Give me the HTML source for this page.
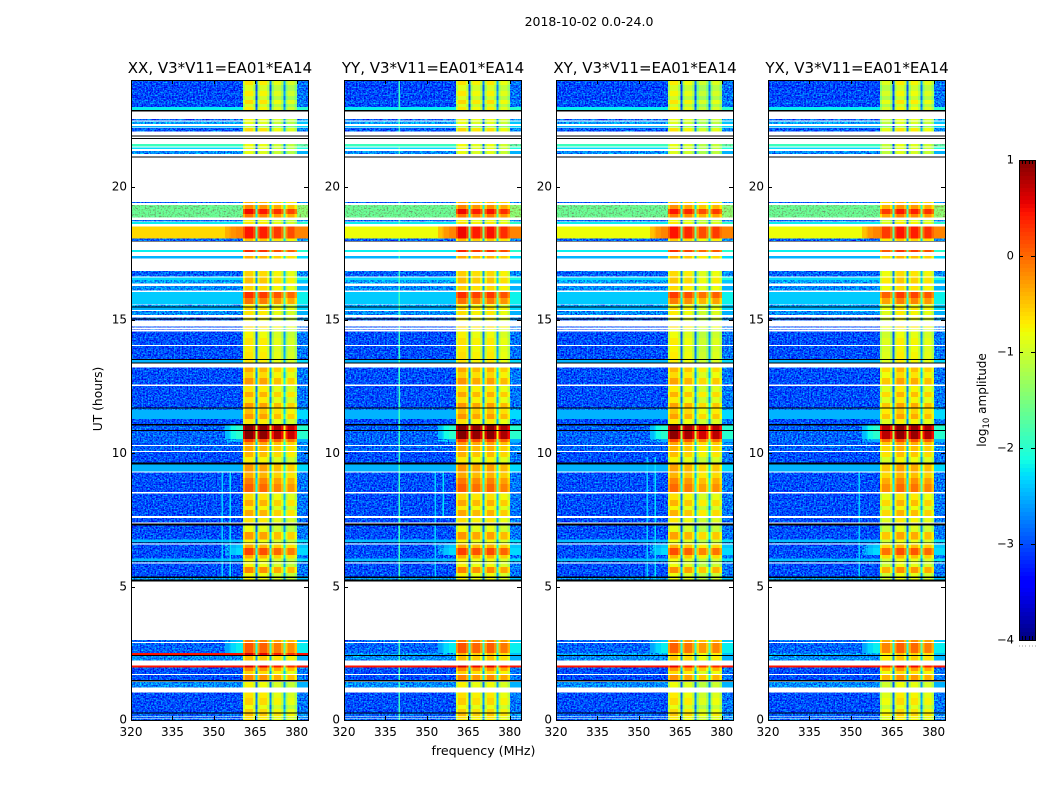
<!DOCTYPE html>
<html>
<head>
<meta charset="utf-8">
<title>2018-10-02 amplitude waterfall</title>
<style>
html,body{margin:0;padding:0;background:#fff;width:1050px;height:800px;overflow:hidden}
svg{display:block}
text{font-family:"DejaVu Sans","Liberation Sans",sans-serif;fill:#000}
</style>
</head>
<body>
<svg id="chart" xmlns="http://www.w3.org/2000/svg" width="1050" height="800" viewBox="0 0 1050 800">
<defs>
<filter id="speckle-0" filterUnits="userSpaceOnUse" x="0" y="60" width="1050" height="680" color-interpolation-filters="sRGB">
<feTurbulence type="fractalNoise" baseFrequency="0.62" numOctaves="2" seed="3" result="n"/>
<feColorMatrix in="n" type="matrix" values="0 0 0 0 0.5  0 1.6 0 0 -0.3  0 0.45 0 0 0.275  0 0 0 0 1" result="m"/>
<feComposite in="SourceGraphic" in2="m" operator="arithmetic" k1="0" k2="1" k3="1" k4="-0.5" result="c"/>
<feComposite in="c" in2="SourceAlpha" operator="in"/>
</filter>
</defs>
<text x="589" y="26" text-anchor="middle" font-size="12.5">2018-10-02 0.0-24.0</text>
<text x="483.5" y="755" text-anchor="middle" font-size="12.6">frequency (MHz)</text>
<text transform="translate(102,399) rotate(-90)" text-anchor="middle" font-size="12.3">UT (hours)</text>
<text transform="translate(986,400) rotate(-90)" text-anchor="middle" font-size="12">log<tspan dy="3" font-size="8.5">10</tspan><tspan dy="-3"> amplitude</tspan></text>
</svg>
<script>
const N = null, B = -9;

// Time rows: each row runs from rowUT[i] down to rowUT[i+1] (hours). null = no data (white), -9 = flagged (black).
const rowUT = [
24.000,23.813,23.588,23.400,23.250,23.100,22.988,22.875,22.819,22.538,
22.481,22.444,22.350,22.275,22.219,22.200,22.061,21.919,21.874,21.825,
21.788,21.600,21.499,21.476,21.413,21.338,21.225,21.124,21.086,19.425,
19.388,19.313,19.163,18.975,18.836,18.750,18.701,18.675,18.600,18.499,
18.056,17.963,17.944,17.625,17.550,17.400,17.299,16.838,16.624,16.586,
16.500,16.376,16.275,16.099,16.050,15.825,15.600,15.574,15.506,15.476,
15.375,15.338,15.188,15.101,15.064,15.026,14.974,14.749,14.711,14.651,
14.625,14.561,14.325,14.063,14.025,13.800,13.538,13.500,13.399,13.376,
13.226,13.050,12.825,12.574,12.525,12.300,12.113,11.888,11.711,11.674,
11.625,11.475,11.288,11.100,11.036,10.875,10.838,10.538,10.425,10.313,
10.275,10.088,10.050,9.863,9.664,9.574,9.326,9.274,9.075,8.850,
8.550,8.501,8.250,8.025,7.875,7.650,7.575,7.414,7.361,7.286,
7.050,6.776,6.675,6.649,6.626,6.574,6.450,6.188,6.056,5.963,
5.944,5.914,5.876,5.738,5.513,5.389,5.325,5.276,5.201,3.000,
2.925,2.888,2.513,2.438,2.400,2.224,2.036,1.976,1.838,1.725,
1.688,1.500,1.451,1.425,1.211,1.024,0.825,0.563,0.413,0.289,
0.236,0.150,0.124,0.075,0.049,0
];
// log10 amplitude outside the 360-380 MHz band, per row
const offBand = [
-3.0,-3.05,-3.0,-3.05,-2.95,-3.05,-2.2,B,N,-2.9,
N,-2.6,N,-2.5,N,-2.95,N,B,N,B,
N,-1.9,N,-2.3,N,-2.7,N,B,N,-2.9,
N,-1.6,-1.6,-1.6,N,-2.9,N,-2.2,N,-0.6,
-2.9,B,N,-2.2,N,-2.5,N,-2.9,N,-2.3,
-2.6,N,-2.7,N,-2.38,-2.38,N,-2.6,B,-2.5,
N,-2.7,N,-2.9,B,-2.9,N,-3.0,N,-3.0,
N,-3.0,-3.0,N,-3.0,-3.0,B,-2.5,B,N,
-3.0,-3.0,-3.0,N,-3.0,-3.0,-3.0,-3.0,B,-2.8,
-2.5,-2.5,-3.0,B,-2.9,B,-2.9,-2.9,-2.9,N,
-2.9,N,-3.0,-3.0,B,-2.5,N,-3.0,-3.0,-3.0,
N,-3.0,-3.0,-3.0,-3.0,N,-3.0,N,B,-3.0,
-3.0,-2.45,B,-2.9,N,-3.0,-3.0,-3.0,-2.45,B,
-2.9,N,-3.0,-3.0,-3.0,B,-2.6,B,N,-2.9,
N,-2.9,-2.6,B,-2.7,N,0.45,-3.0,-3.0,N,
-3.0,B,N,-2.7,N,-3.0,-3.0,-3.0,-3.0,B,
-2.9,N,-2.9,N,-2.9
];
// log10 amplitude inside the band, per row
const inBand = [
-0.8,-1.05,-0.85,-1.1,-0.75,-1.1,-0.85,B,N,-0.9,
N,-1.0,N,-1.3,N,-0.75,N,B,N,B,
N,-0.95,N,-1.0,N,-1.0,N,B,N,-0.5,
N,-0.3,0.35,-0.2,N,-0.9,N,-0.8,N,0.3,
-0.6,B,N,0.2,N,-0.5,N,-0.7,N,-0.6,
-0.6,N,-0.7,N,0.15,-0.2,N,-0.9,B,-0.7,
N,-0.8,N,-0.8,B,-0.9,N,-0.7,N,-0.9,
N,-0.9,-0.8,N,-0.85,-0.8,B,-0.8,B,N,
-0.5,-0.7,-0.4,N,-0.8,-0.5,-0.8,-0.4,B,-0.6,
-0.6,-0.4,-0.8,B,0.85,B,0.85,0.1,-0.4,N,
-0.5,N,-0.55,-0.85,B,-0.4,N,-0.5,-0.25,-0.1,
N,-0.75,-0.5,-0.85,-0.5,N,-0.8,N,B,-0.95,
-0.4,-0.9,B,-0.9,N,-0.5,0.05,-0.5,-0.9,B,
-0.9,N,-0.9,-0.3,-0.9,B,-0.9,B,N,-0.25,
N,-0.05,-0.6,B,-0.6,N,0.45,-0.3,-0.7,N,
-0.3,B,N,-0.9,N,-0.8,-0.7,-0.95,-0.7,B,
-0.6,N,-0.8,N,-0.8
];
// Rows with a brighter shoulder next to the band
const shoulderUT = [18.499,11.036,10.838,10.538,6.574,6.450,3.000,2.888];
const shoulderLevel = [-0.15,-2.0,-2.0,-2.5,-2.4,-2.3,-2.4,-2.2];

// Frequency channels (MHz edges)
const channelEdges = [320,339.75,340.25,352.75,353.25,354,355.75,356.25,358,360.5,361.3,364.2,365.1,365.85,366.6,369.3,370.2,370.95,371.7,374.3,375.2,375.95,376.7,379.2,380.1,384.1];
// -1 below band, 0-3 sub-band, 4 gap between sub-bands, 5 above band
const channelBand = [-1,-1,-1,-1,-1,-1,-1,-1,-1,0,0,0,4,1,1,1,4,2,2,2,4,3,3,3,5];
const channelOffset = [0,0,0,0,0,0,0,0,0,-0.3,0.05,-0.25,-2.0,-0.3,0.05,-0.25,-1.9,-0.3,0.05,-0.25,-1.7,-0.3,0.05,-0.25,0.2];
const shoulderWeight = [0,0,0,0,0,0.5,0.7,0.85,1,0,0,0,0,0,0,0,0,0,0,0,0,0,0,0,1];

// Per-polarisation gain on in-band amplitude (XX, YY, XY, YX)
const panelGain = [0,0.02,-0.05,-0.05];
const subbandGain = [
  [0.1,0.05,-0.1,-0.2],
  [0.1,0,0.05,-0.1],
  [0.1,0,-0.2,-0.1],
  [-0.1,0.1,0.05,-0.05]
];
// Row values that differ for one polarisation
const overrideUT = [2.513,18.499,18.499,18.499];
const overridePanel = [0,1,2,3];
const overrideLevel = [0.45,-0.8,-0.8,-0.8];
const overrideBand = [0.45,0.35,0.35,0.35];

// Narrow interference lines
const rfiPanel = [1,0,0,2,2,3,1,1];
const rfiFreq = [340,353,356,353,356,353,353,356];
const rfiFrom = [0,5.2,5.2,5.2,5.2,5.2,5.2,7.8];
const rfiTo = [24,9.5,9.5,10,10,9.5,9.5,9.3];
const rfiLevel = [-1.9,-2.35,-2.25,-2.35,-2.25,-2.35,-2.35,-2.25];

const panelTitles = ['XX, V3*V11=EA01*EA14','YY, V3*V11=EA01*EA14','XY, V3*V11=EA01*EA14','YX, V3*V11=EA01*EA14'];
const xTicks = [320,335,350,365,380];
const yTicks = [0,5,10,15,20];
const colorTicks = [-4,-3,-2,-1,0,1];

const panelLefts = [131,344,556,768];
const plotW = 177, plotTop = 80, plotH = 640;
const xMin = 320, xMax = 384.1, utMax = 24, vMin = -4, vMax = 1;
const cbLeft = 1019, cbW = 16, cbTop = 160, cbH = 480;

const svg = document.getElementById('chart');
const NS = 'http://www.w3.org/2000/svg';
function el(tag, attrs, parent){
  const e = document.createElementNS(NS, tag);
  for (const k in attrs) e.setAttribute(k, attrs[k]);
  parent.appendChild(e);
  return e;
}
function xScale(p, f){ return panelLefts[p] + (f - xMin) / (xMax - xMin) * plotW; }
function yScale(ut){ return plotTop + plotH - ut / utMax * plotH; }
function vScale(v){ return cbTop + cbH - (v - vMin) / (vMax - vMin) * cbH; }
function seg(t, a, b){ return t < a ? 0 : t > b ? 1 : (t - a) / (b - a); }
function jet(v){
  const t = Math.max(0, Math.min(1, (v - vMin) / (vMax - vMin)));
  const r = seg(t, 0.35, 0.66) - seg(t, 0.89, 1) * 0.5;
  const g = seg(t, 0.125, 0.375) - seg(t, 0.64, 0.91);
  const b = 0.5 + seg(t, 0, 0.11) * 0.5 - seg(t, 0.34, 0.65);
  return 'rgb(' + Math.round(r * 255) + ',' + Math.round(g * 255) + ',' + Math.round(Math.max(b, 0) * 255) + ')';
}
function cellValue(p, i, c){
  const ut = rowUT[i];
  let off = offBand[i], inb = inBand[i];
  if (off === N) return N;
  for (let k = 0; k < overrideUT.length; k++) {
    if (overrideUT[k] === ut && overridePanel[k] === p) { off = overrideLevel[k]; inb = overrideBand[k]; }
  }
  const band = channelBand[c];
  if (band === -1 || band === 5) {
    if (off === B) return B;
    let v = off;
    const s = shoulderUT.indexOf(ut);
    if (band === 5) v += off > 0 ? 0 : channelOffset[c];
    if (s >= 0 && shoulderWeight[c] > 0) v = off + (shoulderLevel[s] - off) * shoulderWeight[c];
    for (let k = 0; k < rfiPanel.length; k++) {
      if (rfiPanel[k] === p && rfiFreq[k] > channelEdges[c] && rfiFreq[k] < channelEdges[c + 1] && ut <= rfiTo[k] && ut >= rfiFrom[k]) v = Math.max(v, rfiLevel[k]);
    }
    return v;
  }
  if (inb === B) return B;
  const gain = band === 4 ? 0 : subbandGain[p][band];
  return inb + panelGain[p] + gain + channelOffset[c];
}
function isSpeckled(v){ return v < -2.55 || (v > -1.75 && v < -1.3); }

panelTitles.forEach(function(title, p){
  const panel = el('g', {}, svg);
  
  

  const noisy = el('g', {filter: 'url(#speckle-0)', 'shape-rendering': 'crispEdges'}, panel);
  
  
  const plain = el('g', {'shape-rendering': 'crispEdges'}, panel);
  
  

  for (let i = 0; i < offBand.length; i++) {
    const yT = yScale(rowUT[i]), yB = yScale(rowUT[i + 1]);
    for (let c = 0; c < channelBand.length; c++) {
      const v = cellValue(p, i, c);
      if (v === N) continue;
      const x0 = xScale(p, channelEdges[c]), x1 = xScale(p, channelEdges[c + 1]);
      const offCell = channelBand[c] === -1 || channelBand[c] === 5;
      const parent = (offCell && v !== B && isSpeckled(v)) ? noisy : plain;
      const cell = el('rect', {x: x0, y: yT, width: x1 - x0, height: yB - yT, fill: v === B ? '#000' : jet(v)}, parent);
      
      
    }
  }

  const L = panelLefts[p];
  const frame = el('rect', {x: L + 0.5, y: plotTop + 0.5, width: plotW, height: plotH, fill: 'none', stroke: '#000', 'stroke-width': 1}, panel);
  
  

  const tt = el('text', {x: L + plotW / 2 + 0.5, y: 73, 'text-anchor': 'middle', 'font-size': 15}, panel);
  tt.textContent = title;
  
  

  xTicks.forEach(function(f){
    const x = Math.round(xScale(p, f)) + 0.5;
    const tb = el('path', {d: 'M' + x + ' ' + (plotTop + plotH) + 'v-4M' + x + ' ' + plotTop + 'v4', stroke: '#000', 'stroke-width': 1, fill: 'none'}, panel);
    
    
    const lb = el('text', {x: xScale(p, f), y: 736, 'text-anchor': 'middle', 'font-size': 12}, panel);
    lb.textContent = f;
    
    
  });
  yTicks.forEach(function(u){
    const y = Math.round(yScale(u)) + 0.5;
    const tb = el('path', {d: 'M' + L + ' ' + y + 'h4M' + (L + plotW) + ' ' + y + 'h-4', stroke: '#000', 'stroke-width': 1, fill: 'none'}, panel);
    
    
    const lb = el('text', {x: L - 4, y: yScale(u) + 3.6, 'text-anchor': 'end', 'font-size': 12}, panel);
    lb.textContent = u;
    
    
  });
});

const cb = el('g', {'shape-rendering': 'crispEdges'}, svg);


for (let k = 0; k < 120; k++) {
  const v0 = vMin + (vMax - vMin) * k / 120, v1 = vMin + (vMax - vMin) * (k + 1) / 120;
  const s = el('rect', {x: cbLeft, y: vScale(v1), width: cbW, height: vScale(v0) - vScale(v1), fill: jet((v0 + v1) / 2)}, cb);
  
  
}
const cbFrame = el('rect', {x: cbLeft + 0.5, y: cbTop + 0.5, width: cbW, height: cbH, fill: 'none', stroke: '#000', 'stroke-width': 1}, svg);


colorTicks.forEach(function(v){
  const y = Math.round(vScale(v)) + 0.5;
  const tk = el('path', {d: 'M' + cbLeft + ' ' + y + 'h4M' + (cbLeft + cbW) + ' ' + y + 'h-4', stroke: '#000', 'stroke-width': 1, fill: 'none'}, svg);
  
  
  const lb = el('text', {x: 1014, y: vScale(v) + 3.4, 'text-anchor': 'end', 'font-size': 11.5}, svg);
  lb.textContent = v < 0 ? '\u2212' + Math.abs(v) : v;
  
  
});
[0,1,2,3,4,5].forEach(function(n){
  const x = Math.round(cbLeft + n * cbW / 5) + 0.5;
  const tk = el('path', {d: 'M' + x + ' ' + cbTop + 'v4M' + x + ' ' + (cbTop + cbH) + 'v-4', stroke: '#000', 'stroke-width': 1, fill: 'none'}, svg);
  
  
  const dot = el('rect', {x: x - 0.5, y: 645.5, width: 1, height: 1, fill: '#999'}, svg);
  
  
});
</script>
</body>
</html>
